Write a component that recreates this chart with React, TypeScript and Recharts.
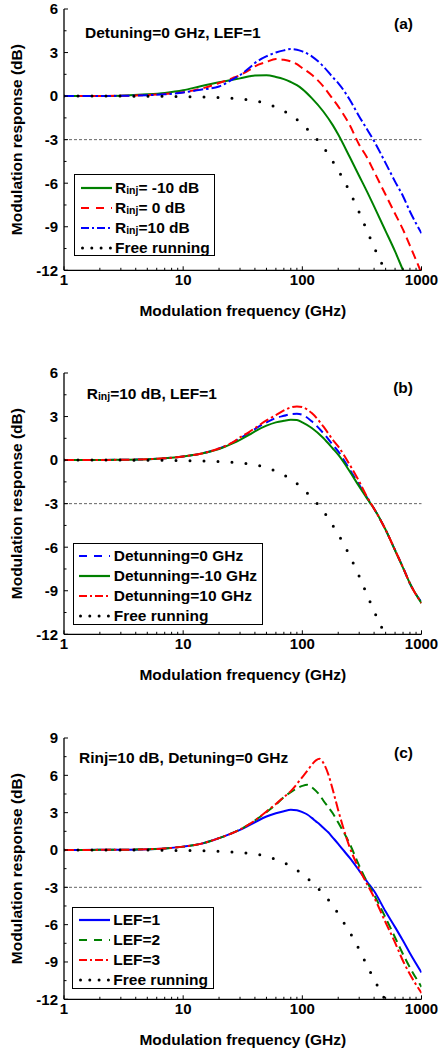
import React from 'react';
import { LineChart, Line, XAxis, YAxis, ReferenceLine, Legend } from 'recharts';

const FONT = '"Liberation Sans", Arial, Helvetica, sans-serif';

// frequency grid (GHz) used by panels (a) and (b)
const freqAB = [1, 2, 3, 5, 7, 10, 14, 20, 26, 30, 36, 40, 50, 60, 70, 80, 90, 100, 120, 150, 180, 200, 250, 300, 350, 400, 500, 600, 700, 800, 1000];
const freeRunAB = [0, 0, 0, -0.01, -0.02, -0.04, -0.06, -0.1, -0.16, -0.2, -0.26, -0.32, -0.5, -0.76, -1.02, -1.3, -1.62, -1.93, -2.6, -3.5, -4.5, -5.1, -6.6, -8.0, -9.3, -10.4, -12.1, -13.5, -14.7, -15.7, -17.5];

// panel (a): injection ratio
const rinjM10 = [0, 0.01, 0.03, 0.12, 0.22, 0.4, 0.68, 0.95, 1.12, 1.22, 1.36, 1.42, 1.43, 1.32, 1.17, 0.97, 0.75, 0.48, -0.14, -1.06, -2.0, -2.65, -4.2, -5.5, -6.6, -7.6, -9.3, -10.7, -12.0, -13.1, -15.0];
const rinj0 = [0, 0.01, 0.02, 0.07, 0.14, 0.27, 0.5, 0.9, 1.24, 1.45, 1.8, 2.05, 2.35, 2.55, 2.5, 2.39, 2.2, 1.93, 1.47, 0.67, -0.2, -0.71, -2.0, -3.35, -4.25, -5.2, -6.8, -8.1, -9.2, -10.3, -12.2];
const rinj10 = [0, 0.01, 0.02, 0.06, 0.12, 0.25, 0.44, 0.66, 1.15, 1.45, 1.95, 2.28, 2.74, 3.0, 3.15, 3.24, 3.2, 3.08, 2.74, 2.05, 1.3, 0.9, -0.25, -1.4, -2.3, -3.1, -4.62, -5.89, -6.9, -7.95, -9.45];

// panel (b): detuning
const det0 = [0, 0.01, 0.02, 0.06, 0.12, 0.25, 0.44, 0.8, 1.2, 1.5, 1.9, 2.14, 2.6, 2.9, 3.05, 3.17, 3.19, 3.12, 2.67, 1.86, 1.05, 0.6, -0.66, -1.7, -2.6, -3.35, -4.8, -6.2, -7.4, -8.5, -9.8];
const detM10 = [0, 0.01, 0.02, 0.06, 0.12, 0.25, 0.44, 0.76, 1.15, 1.4, 1.75, 1.98, 2.37, 2.6, 2.71, 2.78, 2.76, 2.6, 2.21, 1.52, 0.8, 0.37, -0.78, -1.82, -2.65, -3.35, -4.8, -6.22, -7.43, -8.5, -9.85];
const det10 = [0, 0.01, 0.02, 0.06, 0.12, 0.25, 0.44, 0.8, 1.22, 1.56, 1.95, 2.2, 2.73, 3.1, 3.42, 3.63, 3.7, 3.65, 3.24, 2.32, 1.4, 0.94, -0.32, -1.47, -2.55, -3.35, -4.8, -6.2, -7.4, -8.5, -9.85];

// panel (c): linewidth enhancement factor
const freqC = [1, 2, 3, 5, 7, 10, 14, 20, 30, 40, 50, 60, 70, 80, 90, 100, 110, 120, 130, 140, 150, 165, 180, 200, 220, 250, 300, 350, 400, 500, 600, 700, 800, 1000];
const freeRunC = [0, 0, 0, -0.01, -0.02, -0.04, -0.06, -0.1, -0.2, -0.32, -0.5, -0.76, -1.02, -1.3, -1.62, -1.93, -2.27, -2.6, -2.92, -3.22, -3.5, -3.98, -4.5, -5.1, -5.75, -6.6, -8.0, -9.3, -10.4, -12.1, -13.5, -14.7, -15.7, -17.5];
const lef1 = [0, 0.01, 0.02, 0.06, 0.12, 0.27, 0.49, 0.95, 1.61, 2.23, 2.69, 2.95, 3.12, 3.23, 3.2, 3.04, 2.85, 2.58, 2.3, 2.05, 1.78, 1.42, 1.0, 0.49, 0.0, -0.64, -1.66, -2.55, -3.3, -4.95, -6.2, -7.3, -8.3, -9.85];
const lef2 = [0, 0.01, 0.02, 0.06, 0.12, 0.27, 0.49, 0.95, 1.65, 2.37, 3.04, 3.65, 4.25, 4.65, 4.95, 5.15, 5.24, 5.05, 4.75, 4.4, 3.98, 3.45, 2.95, 2.2, 1.5, 0.49, -1.26, -2.6, -3.6, -5.45, -7.03, -8.38, -9.45, -11.0];
const lef3 = [0, 0.01, 0.02, 0.06, 0.12, 0.27, 0.49, 0.95, 1.65, 2.37, 3.1, 3.7, 4.25, 4.73, 5.3, 5.86, 6.35, 6.85, 7.2, 7.33, 7.0, 6.1, 4.85, 3.2, 1.83, 0.2, -1.53, -2.75, -3.8, -5.83, -7.44, -8.92, -9.99, -11.5];

const xTicks = [1, 2, 3, 4, 5, 6, 7, 8, 9, 10, 20, 30, 40, 50, 60, 70, 80, 90, 100, 200, 300, 400, 500, 600, 700, 800, 900, 1000];
const xMajor = [1, 10, 100, 1000];
const yTicksAB = [-12, -10.5, -9, -7.5, -6, -4.5, -3, -1.5, 0, 1.5, 3, 4.5, 6];
const yTicksC = [-12, -10.5, -9, -7.5, -6, -4.5, -3, -1.5, 0, 1.5, 3, 4.5, 6, 7.5, 9];

// plot geometry inside each chart
const CH_W = 440;
const CH_H = 330;
const P_TOP = 9;
const P_H = 261.3;
const P_BOTTOM = P_TOP + P_H;
const P_LEFT = 64;
const P_RIGHT = 421.5;

const GREEN = '#008000';
const RED = '#ff0000';
const BLUE = '#0000ff';

type Style = 'solid' | 'dash' | 'dashdot' | 'dot';
const dashes: Record<Style, string | undefined> = { solid: undefined, dash: '9 5', dashdot: '10 3 2.5 3', dot: '0 14' };
const legendDashes: Record<Style, string | undefined> = { solid: undefined, dash: '8 7', dashdot: '8 3 2 3', dot: '0 9.3' };

interface Series { key: string; name: string; color: string; style: Style; }

const txt = { fontFamily: FONT, fontWeight: 700, fill: '#000' } as const;

function BottomTick({ x, payload }: any) {
  const major = xMajor.includes(payload.value);
  return (
    <g>
      <line x1={x} x2={x} y1={P_BOTTOM} y2={P_BOTTOM - (major ? 4 : 2.5)} stroke="#000" strokeWidth={1} />
      {major && (
        <text x={x} y={P_BOTTOM + 4} dy="0.71em" textAnchor="middle" fontSize={15} {...txt}>{payload.value}</text>
      )}
    </g>
  );
}

function TopTick({ x, payload }: any) {
  const major = xMajor.includes(payload.value);
  return <line x1={x} x2={x} y1={P_TOP} y2={P_TOP + (major ? 4 : 2.5)} stroke="#000" strokeWidth={1} />;
}

function LeftTick({ y, payload }: any) {
  const major = Number.isInteger(payload.value);
  return (
    <g>
      <line x1={P_LEFT} x2={P_LEFT + (major ? 4 : 2.5)} y1={y} y2={y} stroke="#000" strokeWidth={1} />
      {major && (
        <text x={P_LEFT - 6} y={y} dy="0.355em" textAnchor="end" fontSize={15} {...txt}>{payload.value}</text>
      )}
    </g>
  );
}

function RightTick({ y, payload }: any) {
  const major = Number.isInteger(payload.value);
  return <line x1={P_RIGHT} x2={P_RIGHT - (major ? 4 : 2.5)} y1={y} y2={y} stroke="#000" strokeWidth={1} />;
}

function XTitle() {
  return (
    <text x={(P_LEFT + P_RIGHT) / 2} y={P_BOTTOM + 45.2} textAnchor="middle" fontSize={15.5} {...txt}>
      Modulation frequency (GHz)
    </text>
  );
}

function YTitle() {
  const cy = P_TOP + P_H / 2;
  return (
    <text x={22.5} y={cy} transform={`rotate(-90 22.5 ${cy})`} textAnchor="middle" fontSize={15.5} {...txt}>
      Modulation response (dB)
    </text>
  );
}

// "Rinj" written with a small lowered "inj"
function RichLabel({ text }: { text: string }) {
  if (!text.startsWith('Rinj')) return <span>{text}</span>;
  return (
    <span>
      R<span style={{ fontSize: 10.5, position: 'relative', top: 1.5 }}>inj</span>
      {text.slice(4)}
    </span>
  );
}

function LegendBox({ series }: { series: Series[] }) {
  return (
    <div style={{ border: '1.3px solid #000', background: '#fff', boxSizing: 'border-box', width: '100%', height: '100%', paddingTop: 2.5, fontFamily: FONT, fontWeight: 700, fontSize: 15.5, color: '#000' }}>
      {series.map((s) => (
        <div key={s.key} style={{ display: 'flex', alignItems: 'center', height: 20, whiteSpace: 'pre' }}>
          <svg width={31} height={20} style={{ marginLeft: 5.5, flex: 'none' }}>
            <line x1={s.style === 'dot' ? 1.5 : 0} x2={s.style === 'dot' ? 30 : 31} y1={10} y2={10} stroke={s.style === 'dot' ? '#000' : s.color}
              strokeWidth={s.style === 'dot' ? 3 : 2.2} strokeDasharray={legendDashes[s.style]} strokeLinecap={s.style === 'dot' ? 'round' : 'butt'} />
          </svg>
          <span style={{ marginLeft: 3.5 }}><RichLabel text={s.name} /></span>
        </div>
      ))}
    </div>
  );
}

interface PanelProps {
  top: number;
  freq: number[];
  values: Record<string, number[]>;
  series: Series[];
  yDomain: [number, number];
  yTicks: number[];
  note: string;
  noteRich: boolean;
  noteTop: number;
  noteLeft: number;
  tag: string;
  legend: { left: number; top: number; width: number; height: number };
}

function Panel({ top, freq, values, series, yDomain, yTicks, note, noteRich, noteTop, noteLeft, tag, legend }: PanelProps) {
  const data = freq.map((f, i) => {
    const row: Record<string, number> = { f };
    for (const s of series) row[s.key] = values[s.key][i];
    return row;
  });
  const axisLine = { stroke: '#000', strokeWidth: 1.3 };
  return (
    <div style={{ position: 'absolute', left: 0, top, width: CH_W, height: CH_H }}>
      <LineChart width={CH_W} height={CH_H} data={data} margin={{ top: P_TOP, right: CH_W - P_RIGHT, left: 0, bottom: 0 }}>
        <XAxis dataKey="f" type="number" scale="log" domain={[1, 1000]} ticks={xTicks} interval={0} allowDataOverflow
          height={CH_H - P_BOTTOM} tickSize={0} tickMargin={4} tickLine={false} axisLine={axisLine} tick={<BottomTick />} label={<XTitle />} />
        <XAxis xAxisId="top" orientation="top" dataKey="f" type="number" scale="log" domain={[1, 1000]} ticks={xTicks} interval={0} allowDataOverflow
          height={0} tickSize={0} tickLine={false} axisLine={axisLine} tick={<TopTick />} />
        <YAxis type="number" domain={yDomain} ticks={yTicks} interval={0} allowDataOverflow width={P_LEFT}
          tickSize={0} tickMargin={6} tickLine={false} axisLine={axisLine} tick={<LeftTick />} label={<YTitle />} />
        <YAxis yAxisId="right" orientation="right" type="number" domain={yDomain} ticks={yTicks} interval={0} allowDataOverflow width={0}
          tickSize={0} tickLine={false} axisLine={axisLine} tick={<RightTick />} />
        <ReferenceLine y={-3} stroke="#666" strokeDasharray="3 2" strokeWidth={1} />
        {series.map((s) => (
          <Line key={s.key} dataKey={s.key} name={s.name} type="monotone" dot={false} activeDot={false} isAnimationActive={false}
            stroke={s.color} strokeWidth={s.style === 'dot' ? 3 : 2} strokeDasharray={dashes[s.style]}
            strokeLinecap={s.style === 'dot' ? 'round' : 'butt'} />
        ))}
        <Legend layout="vertical" align="center" verticalAlign="middle"
          wrapperStyle={{ left: legend.left, top: legend.top, width: legend.width, height: legend.height }}
          content={() => <LegendBox series={series} />} />
      </LineChart>
      <div style={{ position: 'absolute', left: noteLeft, top: noteTop - 9, lineHeight: '18px', fontFamily: FONT, fontWeight: 700, fontSize: 15.5, whiteSpace: 'pre' }}>
        {noteRich ? <RichLabel text={note} /> : note}
      </div>
      <div style={{ position: 'absolute', right: CH_W - 413, top: 24 - 9, lineHeight: '18px', fontFamily: FONT, fontWeight: 700, fontSize: 15.5 }}>
        {tag}
      </div>
    </div>
  );
}

const seriesA: Series[] = [
  { key: 'm10', name: 'Rinj= -10 dB', color: GREEN, style: 'solid' },
  { key: 'z', name: 'Rinj= 0 dB', color: RED, style: 'dash' },
  { key: 'p10', name: 'Rinj=10 dB', color: BLUE, style: 'dashdot' },
  { key: 'free', name: 'Free running', color: '#000', style: 'dot' },
];
const seriesB: Series[] = [
  { key: 'd0', name: 'Detunning=0 GHz', color: BLUE, style: 'dash' },
  { key: 'dm10', name: 'Detunning=-10 GHz', color: GREEN, style: 'solid' },
  { key: 'd10', name: 'Detunning=10 GHz', color: RED, style: 'dashdot' },
  { key: 'free', name: 'Free running', color: '#000', style: 'dot' },
];
const seriesC: Series[] = [
  { key: 'l1', name: 'LEF=1', color: BLUE, style: 'solid' },
  { key: 'l2', name: 'LEF=2', color: GREEN, style: 'dash' },
  { key: 'l3', name: 'LEF=3', color: RED, style: 'dashdot' },
  { key: 'free', name: 'Free running', color: '#000', style: 'dot' },
];

export default function App() {
  return (
    <div style={{ position: 'absolute', left: 0, top: 0, width: 440, height: 1053, overflow: 'hidden', background: '#fff' }}>
      <Panel top={0} freq={freqAB} values={{ m10: rinjM10, z: rinj0, p10: rinj10, free: freeRunAB }} series={seriesA}
        yDomain={[-12, 6]} yTicks={yTicksAB} note="Detuning=0 GHz, LEF=1" noteRich={false} noteTop={32.5} noteLeft={85} tag="(a)"
        legend={{ left: 74, top: 174, width: 141, height: 82 }} />
      <Panel top={364.3} freq={freqAB} values={{ d0: det0, dm10: detM10, d10: det10, free: freeRunAB }} series={seriesB}
        yDomain={[-12, 6]} yTicks={yTicksAB} note="Rinj=10 dB, LEF=1" noteRich={true} noteTop={29.5} noteLeft={86.7} tag="(b)"
        legend={{ left: 72.7, top: 178.4, width: 190.6, height: 82.3 }} />
      <Panel top={728.7} freq={freqC} values={{ l1: lef1, l2: lef2, l3: lef3, free: freeRunC }} series={seriesC}
        yDomain={[-12, 9]} yTicks={yTicksC} note="Rinj=10 dB, Detuning=0 GHz" noteRich={false} noteTop={29.3} noteLeft={79} tag="(c)"
        legend={{ left: 72.3, top: 178, width: 142, height: 82.6 }} />
    </div>
  );
}
